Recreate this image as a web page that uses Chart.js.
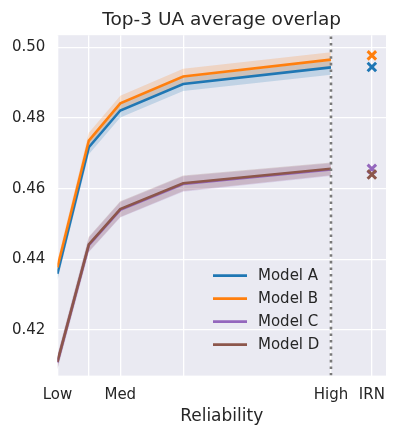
<!DOCTYPE html>
<html>
<head>
<meta charset="utf-8">
<script src="https://cdn.jsdelivr.net/npm/chart.js@4.4.1/dist/chart.umd.min.js"></script>
<style>
  html, body { margin: 0; padding: 0; background: #fff; }
  #wrap { width: 397px; height: 436px; }
</style>
</head>
<body>
<div id="wrap"><canvas id="overlapChart"></canvas></div>
<script>
// reliability positions on the x axis (Low .. High), IRN sits to the right
const levels = [0, 1, 2, 4, 8.7];
const irnX = 10;
const highX = 8.7;
const xTickValues = [0, 1, 2, 4, 8.7, 10];
const xTickLabels = ['Low', '', 'Med', '', 'High', 'IRN'];
const yTickValues = [0.42, 0.44, 0.46, 0.48, 0.50];
const yMin = 0.4071, yMax = 0.5034;

const modelNames = ['Model A', 'Model B', 'Model C', 'Model D'];
const modelColors = ['#1f77b4', '#ff7f0e', '#9467bd', '#8c564b'];
const bandColors = ['rgba(31,119,180,0.2)', 'rgba(255,127,14,0.2)', 'rgba(148,103,189,0.2)', 'rgba(140,86,75,0.2)'];

const modelA = [0.4359, 0.4717, 0.4821, 0.4896, 0.4943];
const modelB = [0.4377, 0.4736, 0.4841, 0.4917, 0.4965];
const modelC = [0.4108, 0.4440, 0.4540, 0.4613, 0.4654];
const modelD = [0.4110, 0.4442, 0.4542, 0.4615, 0.4656];

const modelA_lo = [0.4340, 0.4697, 0.4801, 0.4876, 0.4922];
const modelA_hi = [0.4378, 0.4737, 0.4841, 0.4914, 0.4962];
const modelB_lo = [0.4358, 0.4716, 0.4821, 0.4897, 0.4945];
const modelB_hi = [0.4396, 0.4758, 0.4863, 0.4939, 0.4986];
const modelC_lo = [0.4088, 0.4420, 0.4518, 0.4591, 0.4636];
const modelC_hi = [0.4128, 0.4462, 0.4562, 0.4635, 0.4672];
const modelD_lo = [0.4090, 0.4422, 0.4520, 0.4593, 0.4638];
const modelD_hi = [0.4130, 0.4464, 0.4564, 0.4637, 0.4674];

// IRN single points (x markers)
const irnValues = [0.4944, 0.4977, 0.4656, 0.4640];

const means = [modelA, modelB, modelC, modelD];
const lows = [modelA_lo, modelB_lo, modelC_lo, modelD_lo];
const highs = [modelA_hi, modelB_hi, modelC_hi, modelD_hi];

const pts = arr => levels.map((x, i) => ({ x: x, y: arr[i] }));
const textColor = '#262626';
const font = 'DejaVu Sans';

const datasets = [];
// IRN markers on top (lowest order draws last)
modelNames.forEach((name, i) => {
  datasets.push({
    type: 'scatter',
    data: [{ x: irnX, y: irnValues[i] }],
    pointStyle: 'crossRot',
    pointRadius: 6,
    borderWidth: 3,
    borderColor: modelColors[i],
    backgroundColor: modelColors[i],
    order: 4 - i
  });
});
// dotted marker at High
datasets.push({
  data: [{ x: highX, y: yMin }, { x: highX, y: yMax }],
  borderColor: '#7a7a7a',
  borderWidth: 2.6,
  borderDash: [2.6, 4],
  pointRadius: 0,
  order: 6
});
// mean lines
modelNames.forEach((name, i) => {
  datasets.push({
    label: name,
    legend: true,
    data: pts(means[i]),
    borderColor: modelColors[i],
    borderWidth: 2.6,
    pointRadius: 0,
    fill: false,
    order: 20 - i
  });
});
// confidence bands: upper then lower filled to previous
modelNames.forEach((name, i) => {
  datasets.push({
    data: pts(highs[i]),
    borderWidth: 0,
    pointRadius: 0,
    fill: false,
    order: 40 - 2 * i
  });
  datasets.push({
    data: pts(lows[i]),
    borderWidth: 0,
    pointRadius: 0,
    backgroundColor: bandColors[i],
    fill: '-1',
    order: 40 - 2 * i - 1
  });
});

const areaBg = {
  id: 'areaBg',
  beforeDraw(chart) {
    const { ctx, chartArea: a } = chart;
    ctx.save();
    ctx.fillStyle = '#eaeaf2';
    ctx.fillRect(a.left, a.top, a.right - a.left, a.bottom - a.top);
    ctx.restore();
  }
};

const innerLegend = {
  id: 'innerLegend',
  afterDraw(chart) {
    const { ctx, chartArea: a } = chart;
    const items = chart.data.datasets.filter(d => d.legend);
    ctx.save();
    ctx.font = '15px "' + font + '"';
    ctx.textBaseline = 'middle';
    ctx.fillStyle = textColor;
    items.forEach((d, k) => {
      const y = a.bottom - 100 + k * 23;
      ctx.strokeStyle = d.borderColor;
      ctx.lineWidth = 2.6;
      ctx.beginPath();
      ctx.moveTo(a.right - 173, y);
      ctx.lineTo(a.right - 139, y);
      ctx.stroke();
      ctx.fillText(d.label, a.right - 128, y + 1);
    });
    ctx.restore();
  }
};

new Chart(document.getElementById('overlapChart').getContext('2d'), {
  type: 'line',
  data: { datasets: datasets },
  plugins: [areaBg, innerLegend],
  options: {
    responsive: true,
    maintainAspectRatio: false,
    animation: false,
    layout: { padding: { left: 0, right: 11, top: 0, bottom: 5 } },
    plugins: {
      legend: { display: false },
      tooltip: { enabled: false },
      title: {
        display: true,
        text: 'Top-3 UA average overlap',
        fullSize: false,
        color: textColor,
        font: { family: font, size: 18.5, weight: 'normal' },
        padding: { top: 9, bottom: 4 }
      }
    },
    scales: {
      x: {
        type: 'linear',
        min: 0,
        max: 10.45,
        afterBuildTicks: axis => { axis.ticks = xTickValues.map(v => ({ value: v })); },
        ticks: {
          autoSkip: false,
          maxRotation: 0,
          padding: 11,
          color: textColor,
          font: { family: font, size: 15 },
          callback: v => xTickLabels[xTickValues.indexOf(v)]
        },
        grid: { color: '#ffffff', lineWidth: 1.3, drawTicks: false },
        border: { display: false },
        title: {
          display: true,
          text: 'Reliability',
          color: textColor,
          font: { family: font, size: 17 },
          padding: { top: -9, bottom: 4 }
        }
      },
      y: {
        min: yMin,
        max: yMax,
        afterBuildTicks: axis => { axis.ticks = yTickValues.map(v => ({ value: v })); },
        ticks: {
          padding: 12,
          color: textColor,
          font: { family: font, size: 15 },
          callback: v => v.toFixed(2)
        },
        grid: { color: '#ffffff', lineWidth: 1.3, drawTicks: false },
        border: { display: false }
      }
    }
  }
});
</script>
</body>
</html>
